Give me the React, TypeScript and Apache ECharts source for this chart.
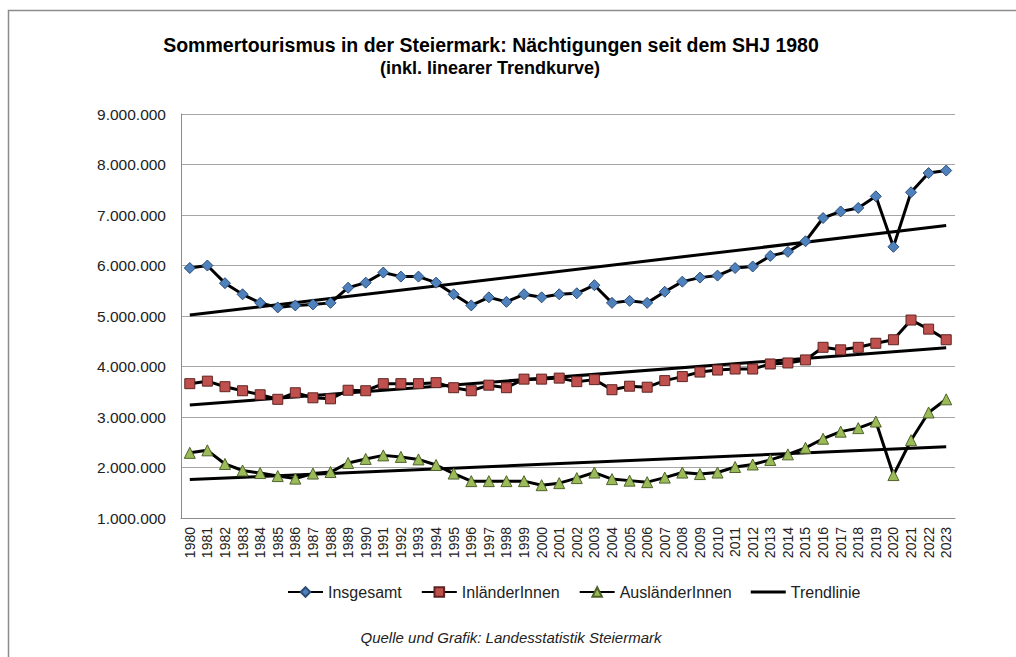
import React, { useEffect, useRef } from "react";
import * as echarts from "echarts";

const years = [
  "1980","1981","1982","1983","1984","1985","1986","1987","1988","1989",
  "1990","1991","1992","1993","1994","1995","1996","1997","1998","1999",
  "2000","2001","2002","2003","2004","2005","2006","2007","2008","2009",
  "2010","2011","2012","2013","2014","2015","2016","2017","2018","2019",
  "2020","2021","2022","2023",
];

const insgesamt = [
  5950000, 6000000, 5650000, 5430000, 5260000, 5170000, 5210000, 5230000, 5260000, 5560000,
  5660000, 5860000, 5780000, 5780000, 5660000, 5430000, 5210000, 5370000, 5280000, 5430000,
  5370000, 5430000, 5450000, 5610000, 5260000, 5300000, 5260000, 5480000, 5680000, 5760000,
  5800000, 5950000, 5980000, 6190000, 6270000, 6480000, 6940000, 7070000, 7140000, 7370000,
  6370000, 7450000, 7830000, 7880000,
];

const inlaender = [
  3660000, 3710000, 3600000, 3520000, 3440000, 3350000, 3480000, 3380000, 3360000, 3530000,
  3520000, 3660000, 3660000, 3660000, 3680000, 3580000, 3520000, 3630000, 3580000, 3750000,
  3750000, 3770000, 3700000, 3740000, 3540000, 3610000, 3590000, 3720000, 3800000, 3890000,
  3930000, 3950000, 3950000, 4050000, 4070000, 4130000, 4380000, 4330000, 4380000, 4460000,
  4530000, 4920000, 4740000, 4530000,
];

const auslaender = [
  2290000, 2340000, 2070000, 1940000, 1890000, 1830000, 1780000, 1880000, 1910000, 2090000,
  2170000, 2240000, 2210000, 2160000, 2050000, 1880000, 1730000, 1730000, 1730000, 1730000,
  1650000, 1690000, 1790000, 1900000, 1770000, 1740000, 1710000, 1800000, 1900000, 1870000,
  1900000, 2010000, 2060000, 2150000, 2260000, 2390000, 2570000, 2710000, 2780000, 2910000,
  1850000, 2540000, 3090000, 3350000,
];

// Linear trend lines: value at first year and at last year
const trendInsgesamt = [5020000, 6790000];
const trendInlaender = [3240000, 4370000];
const trendAuslaender = [1760000, 2410000];

const yTicks = { min: 1000000, max: 9000000, interval: 1000000 };

const titleLines = [
  "Sommertourismus in der Steiermark: Nächtigungen seit dem SHJ 1980",
  "(inkl. linearer Trendkurve)",
];
const sourceText = "Quelle und Grafik: Landesstatistik Steiermark";

const FONT = "'Liberation Sans', Arial, sans-serif";

function fmt(v: number): string {
  return String(Math.round(v)).replace(/\B(?=(\d{3})+(?!\d))/g, ".");
}

function trendData(t: number[]) {
  return [
    [years[0], t[0]],
    [years[years.length - 1], t[1]],
  ];
}

export default function App() {
  const ref = useRef<HTMLDivElement>(null);

  useEffect(() => {
    if (!ref.current) return;
    const chart = echarts.init(ref.current, null, { renderer: "svg" });

    const lineBase = {
      type: "line",
      lineStyle: { color: "#000", width: 3 },
      emphasis: { disabled: true },
    };

    const trendBase = {
      type: "line",
      name: "Trendlinie",
      symbol: "none",
      showSymbol: false,
      lineStyle: { color: "#000", width: 3 },
      itemStyle: { color: "#000" },
      emphasis: { disabled: true },
      z: 3,
    };

    chart.setOption({
      animation: false,
      backgroundColor: "#fff",
      textStyle: { fontFamily: FONT },
      grid: { left: 181, top: 114, right: 61, bottom: 139, containLabel: false },
      legend: {
        left: 282,
        top: 579,
        itemWidth: 35,
        itemHeight: 12,
        itemGap: 19,
        textStyle: { fontSize: 16, color: "#222", fontFamily: FONT },
        data: [
          "Insgesamt",
          "InländerInnen",
          "AusländerInnen",
          { name: "Trendlinie", icon: "path://M0,0H35V3H0Z" },
        ],
      },
      xAxis: {
        type: "category",
        data: years,
        boundaryGap: true,
        axisLine: { show: true, lineStyle: { color: "#8c8c8c", width: 1 } },
        axisTick: { show: false },
        axisLabel: {
          rotate: 90,
          fontSize: 14,
          color: "#222",
          margin: 9,
          interval: 0,
          fontFamily: FONT,
        },
        splitLine: { show: false },
      },
      yAxis: {
        type: "value",
        min: yTicks.min,
        max: yTicks.max,
        interval: yTicks.interval,
        axisLine: { show: true, lineStyle: { color: "#8c8c8c", width: 1 } },
        axisTick: { show: false },
        axisLabel: {
          fontSize: 15.5,
          color: "#222",
          margin: 15,
          formatter: (v: number) => fmt(v),
          fontFamily: FONT,
        },
        splitLine: { show: true, lineStyle: { color: "#a6a6a6", width: 1 } },
      },
      series: [
        {
          ...trendBase,
          data: trendData(trendInsgesamt),
        },
        {
          ...trendBase,
          data: trendData(trendInlaender),
        },
        {
          ...trendBase,
          data: trendData(trendAuslaender),
        },
        {
          ...lineBase,
          name: "Insgesamt",
          data: insgesamt,
          symbol: "diamond",
          symbolSize: 11,
          itemStyle: { color: "#4F81BD", borderColor: "#2c4d75", borderWidth: 1 },
          z: 4,
        },
        {
          ...lineBase,
          name: "InländerInnen",
          data: inlaender,
          symbol: "rect",
          symbolSize: 10,
          itemStyle: { color: "#C0504D", borderColor: "#5e2523", borderWidth: 1 },
          z: 4,
        },
        {
          ...lineBase,
          name: "AusländerInnen",
          data: auslaender,
          symbol: "triangle",
          symbolSize: 11,
          itemStyle: { color: "#9BBB59", borderColor: "#4f6329", borderWidth: 1 },
          z: 4,
        },
      ],
      graphic: [
        {
          type: "rect",
          silent: true,
          shape: { x: 8.5, y: 10.5, width: 1100, height: 700 },
          style: { fill: "none", stroke: "#8c8c8c", lineWidth: 1.5 },
          z: 0,
        },
        {
          type: "text",
          x: 491,
          y: 45,
          silent: true,
          style: {
            text: titleLines[0],
            font: `bold 19.5px ${FONT}`,
            fill: "#000",
            textAlign: "center",
            textVerticalAlign: "middle",
          },
        },
        {
          type: "text",
          x: 490,
          y: 68,
          silent: true,
          style: {
            text: titleLines[1],
            font: `bold 18px ${FONT}`,
            fill: "#000",
            textAlign: "center",
            textVerticalAlign: "middle",
          },
        },
        {
          type: "text",
          x: 511,
          y: 637,
          silent: true,
          style: {
            text: sourceText,
            font: `italic 15px ${FONT}`,
            fill: "#222",
            textAlign: "center",
            textVerticalAlign: "middle",
          },
        },
      ],
    });

    return () => {
      chart.dispose();
    };
  }, []);

  return (
    <div
      ref={ref}
      style={{ position: "fixed", left: 0, top: 0, width: 1016, height: 657 }}
    />
  );
}
